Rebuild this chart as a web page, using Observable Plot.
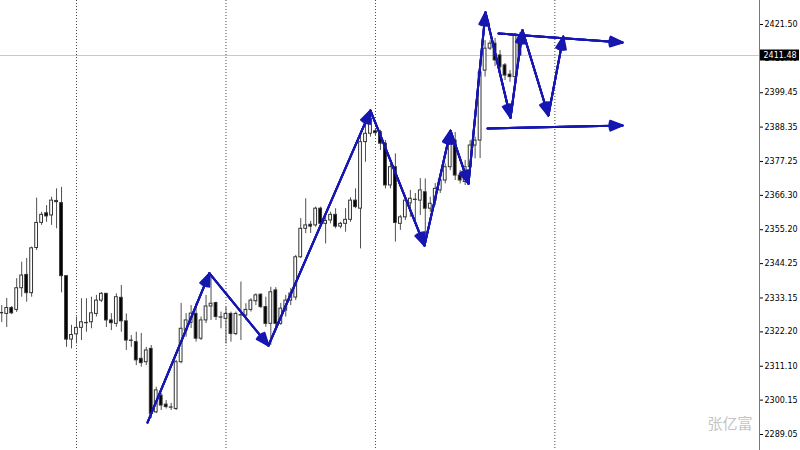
<!DOCTYPE html>
<html><head><meta charset="utf-8">
<script src="https://cdn.jsdelivr.net/npm/d3@7"></script>
<script src="https://cdn.jsdelivr.net/npm/@observablehq/plot@0.6"></script>
<style>body{margin:0;background:#fff}</style>
</head><body><div id="chart"></div>
<script>
const opens = [2328.3,2328.0,2329.9,2329.3,2336.3,2340.6,2334.7,2349.3,2357.4,2360.5,
2359.8,2364.5,2363.8,2340.2,2319.7,2321.4,2323.5,2325.0,2325.3,2328.0,
2332.3,2334.5,2325.9,2324.8,2333.2,2325.6,2319.4,2318.9,2313.5,2312.4,
2316.7,2296.2,2301.6,2298.7,2297.7,2297.3,2312.4,2322.6,2325.1,2328.0,
2320.0,2325.9,2330.4,2331.5,2326.8,2326.4,2328.0,2321.5,2327.5,2327.5,
2329.3,2332.1,2334.2,2330.2,2324.8,2335.6,2324.8,2329.1,2332.3,2333.3,
2346.3,2355.5,2356.8,2356.6,2362.0,2357.1,2358.2,2360.0,2356.2,2357.1,
2358.4,2364.6,2362.0,2383.5,2386.2,2387.0,2386.7,2383.0,2369.5,2375.4,
2357.1,2359.2,2363.7,2364.9,2364.6,2367.3,2362.0,2364.6,2367.9,2371.1,
2375.4,2384.0,2372.7,2370.6,2375.4,2382.4,2384.0,2406.6,2413.7,2415.3,
2411.5,2408.3,2405.3,2404.5,2417.9];
const highs = [2330.7,2333.0,2330.4,2339.4,2344.7,2345.9,2349.6,2365.4,2360.8,2363.0,
2365.7,2368.4,2368.9,2340.2,2324.3,2327.0,2332.9,2332.9,2333.4,2334.0,
2334.9,2334.6,2328.1,2334.5,2337.2,2328.0,2321.0,2322.1,2321.7,2317.2,
2317.8,2304.3,2302.3,2300.0,2299.1,2313.0,2331.4,2328.1,2330.7,2331.4,
2327.0,2334.0,2339.9,2331.8,2328.6,2330.2,2328.6,2328.6,2338.3,2331.3,
2332.9,2334.5,2334.5,2333.4,2336.6,2336.5,2331.4,2334.0,2336.2,2346.9,
2358.8,2365.2,2357.9,2362.5,2362.5,2360.3,2360.9,2362.0,2357.6,2362.0,
2365.5,2368.4,2385.6,2391.6,2392.1,2387.9,2387.3,2384.0,2376.6,2379.7,
2359.8,2365.7,2367.9,2366.9,2371.7,2371.6,2365.7,2370.1,2372.2,2376.5,
2387.3,2386.6,2374.3,2377.6,2384.0,2385.1,2407.3,2416.3,2416.3,2417.0,
2413.1,2408.9,2406.6,2418.6,2418.9];
const lows = [2325.2,2323.6,2327.8,2328.5,2333.4,2331.8,2333.4,2348.5,2356.6,2357.6,
2356.6,2355.5,2334.8,2317.2,2316.7,2318.3,2319.4,2322.1,2323.2,2327.0,
2331.7,2323.6,2322.6,2323.7,2322.1,2316.2,2317.2,2311.3,2310.8,2311.3,
2294.2,2295.8,2296.8,2297.3,2296.8,2296.8,2311.9,2320.5,2323.3,2318.9,
2319.4,2324.9,2325.9,2325.9,2323.2,2318.3,2318.9,2321.0,2319.4,2325.9,
2328.6,2330.7,2329.7,2323.7,2317.8,2322.6,2324.3,2327.0,2330.7,2332.3,
2345.9,2353.9,2354.0,2356.0,2356.0,2350.6,2357.1,2355.5,2355.5,2354.4,
2357.6,2362.0,2349.0,2377.0,2385.1,2385.6,2380.8,2368.4,2368.4,2351.2,
2355.0,2358.2,2359.2,2358.2,2359.8,2350.7,2360.8,2363.0,2366.9,2370.0,
2374.3,2371.1,2370.0,2369.5,2374.3,2378.1,2378.2,2404.5,2413.1,2407.9,
2406.6,2403.4,2402.8,2403.4,2411.2];
const closes = [2328.2,2329.9,2328.2,2336.3,2340.4,2334.7,2349.2,2357.4,2360.0,2359.5,
2364.6,2364.1,2340.2,2319.7,2321.2,2323.5,2325.3,2325.1,2328.2,2332.3,
2334.5,2325.9,2325.0,2333.4,2325.6,2319.4,2319.3,2313.0,2312.1,2316.2,
2295.7,2303.3,2298.4,2297.9,2297.8,2312.4,2323.2,2325.9,2328.1,2320.0,
2325.9,2330.4,2331.3,2327.0,2326.9,2328.0,2321.5,2328.0,2327.6,2329.3,
2332.3,2334.0,2330.2,2324.8,2335.0,2324.8,2329.7,2332.3,2334.6,2346.3,
2355.5,2356.6,2356.2,2362.0,2357.1,2358.0,2360.0,2356.2,2357.1,2358.4,
2364.6,2362.5,2383.5,2386.2,2391.0,2386.4,2383.0,2369.5,2375.4,2357.4,
2359.2,2364.6,2365.2,2364.8,2367.9,2362.0,2363.6,2368.4,2371.1,2375.4,
2385.1,2372.7,2371.1,2375.4,2382.4,2384.0,2406.0,2413.7,2415.3,2409.9,
2407.7,2405.0,2404.5,2417.9,2411.48];

const yTicks = [2289.05,2300.15,2311.10,2322.20,2333.15,2344.25,2355.20,2366.30,2377.25,2388.35,2399.45,2410.40,2421.50];
const separators = [15, 45, 75, 111];
const zigX = [29.25, 41.69, 53.53, 74.0, 84.84, 90.06, 93.67, 97.08, 102.1, 104.5, 109.7, 112.7];
const zigY = [2292.9, 2341.1, 2317.8, 2393.7, 2350.1, 2387.2, 2370.1, 2425.4, 2391.4, 2419.6, 2392.1, 2417.6];
const chanX1 = [99.7, 97.5];
const chanY1 = [2418.6, 2387.9];
const chanX2 = [124.6, 124.6];
const chanY2 = [2415.7, 2388.9];
const lastPrice = 2411.48;
const watermark = "张亿富";

const candles = opens.map((o, i) => ({i, o, h: highs[i], l: lows[i], c: closes[i], up: closes[i] >= o}));
const zig = zigX.slice(1).map((x, k) => ({x1: zigX[k], y1: zigY[k], x2: x, y2: zigY[k + 1]}));
const chan = chanX1.map((x, k) => ({x1: x, y1: chanY1[k], x2: chanX2[k], y2: chanY2[k]}));
const segments = zig.concat(chan);
const xDomain = [-0.25, 152.07];
const yDomain = [2283.88, 2429.25];
const xEnd = xDomain[1];
const blue = "#1616b0";

// filled-looking arrowheads: several arrows with narrowing head angles
const arrowMarks = [44, 32, 20, 8].map(a =>
  Plot.arrow(segments, {x1: "x1", y1: "y1", x2: "x2", y2: "y2", stroke: blue,
    strokeWidth: 2, headLength: 10, headAngle: a}));

const chart = Plot.plot({
  width: 800, height: 450,
  marginLeft: 0, marginRight: 41, marginTop: 0, marginBottom: 0,
  style: {fontFamily: "DejaVu Sans", fontSize: "8px", background: "#fff", color: "#000"},
  x: {domain: xDomain, axis: null},
  y: {domain: yDomain, axis: "right", ticks: yTicks, tickSize: 3, tickPadding: 2,
      tickFormat: d => d.toFixed(2), label: null},
  marks: [
    Plot.ruleX(separators, {stroke: "#444", strokeDasharray: "1,2"}),
    Plot.ruleY([lastPrice], {stroke: "#c8c8c8"}),
    Plot.ruleX(candles, {x: "i", y1: "l", y2: "h", stroke: "#505050"}),
    Plot.rect(candles, {x1: d => d.i - 0.28, x2: d => d.i + 0.28, y1: "o", y2: "c",
      fill: d => d.up ? "#fff" : "#000", stroke: "#333", strokeWidth: 1}),
    ...arrowMarks,
    Plot.ruleX([xEnd], {stroke: "#777"}),
    Plot.rect([lastPrice], {x1: () => xEnd, x2: () => xEnd, y1: d => d, y2: d => d,
      insetLeft: 1, insetRight: -40, insetTop: -5.5, insetBottom: -5.5, fill: "#000"}),
    Plot.text([lastPrice], {x: () => xEnd, y: d => d, text: d => d.toFixed(2), dx: 4,
      textAnchor: "start", fill: "#fff", fontSize: 8}),
    Plot.text([watermark], {frameAnchor: "bottom-right", text: d => d, dx: -7, dy: -22,
      lineAnchor: "bottom", textAnchor: "end", fill: "#c4c4c4", fontSize: 15,
      fontFamily: "Noto Sans CJK SC"})
  ]
});
document.getElementById("chart").appendChild(chart);
</script>
</body></html>
